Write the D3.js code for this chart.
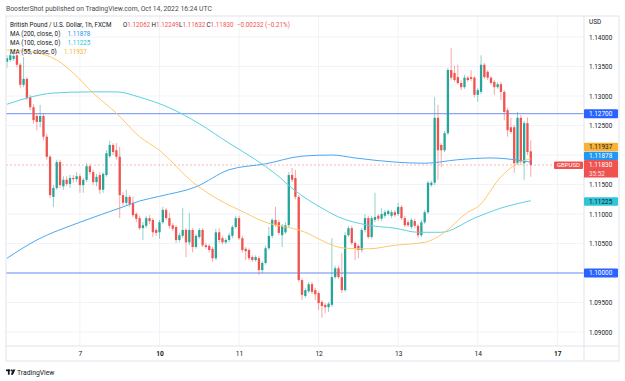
<!DOCTYPE html>
<html>
<head>
<meta charset="utf-8">
<script src="https://cdn.jsdelivr.net/npm/d3@7"></script>
<style>
  body { margin: 0; background: #fff; }
  svg { display: block; font-family: Roboto, "Liberation Sans", sans-serif; }
</style>
</head>
<body>
<div id="chart"></div>
<script>
// GBPUSD 1h candles, Oct 6 - Oct 14 2022
const opens = [
  1.1358,1.1361,1.1363,1.1369,1.1353,1.1319,1.1329,1.1298,1.1281,1.1266,
  1.1256,1.1266,1.1231,1.1197,1.1129,1.1144,1.1188,1.1147,1.1158,1.1151,
  1.1161,1.1159,1.1164,1.1149,1.1158,1.1181,1.1171,1.1154,1.1166,1.1141,
  1.1166,1.1198,1.1217,1.1208,1.1197,1.1132,1.1119,1.1129,1.1119,1.1100,
  1.1093,1.1076,1.1080,1.1093,1.1090,1.1073,1.1069,1.1086,1.1107,1.1093,
  1.1081,1.1078,1.1056,1.1063,1.1073,1.1052,1.1073,1.1044,1.1061,1.1073,
  1.1047,1.1046,1.1041,1.1025,1.1069,1.1059,1.1052,1.1056,1.1063,1.1078,
  1.1093,1.1059,1.1041,1.1039,1.1027,1.1022,1.1025,1.1005,1.1017,1.1042,
  1.1063,1.1090,1.1086,1.1064,1.1069,1.1081,1.1166,1.1161,1.1129,1.0988,
  1.0961,1.0969,1.0981,1.0971,1.0966,1.0951,1.0946,1.0942,1.0946,1.0993,
  1.1008,1.0993,1.0971,1.1064,1.1076,1.1051,1.1046,1.1039,1.1073,1.1093,
  1.1061,1.1090,1.1097,1.1092,1.1097,1.1100,1.1097,1.1103,1.1100,1.1112,
  1.1093,1.1086,1.1078,1.1088,1.1080,1.1064,1.1086,1.1103,1.1149,1.1153,
  1.1263,1.1217,1.1208,1.1237,1.1344,1.1339,1.1332,1.1322,1.1315,1.1331,
  1.1332,1.1331,1.1302,1.1307,1.1353,1.1341,1.1331,1.1324,1.1315,1.1320,
  1.1307,1.1276,1.1247,1.1247,1.1186,1.1263,1.1186,1.1254,1.12062
];
const highs = [
  1.1369,1.1375,1.1375,1.1373,1.1356,1.1366,1.1332,1.1302,1.1286,1.1271,
  1.1285,1.1271,1.1236,1.1200,1.1149,1.1192,1.1192,1.1164,1.1164,1.1166,
  1.1166,1.1171,1.1168,1.1161,1.1186,1.1185,1.1175,1.1168,1.1171,1.1171,
  1.1208,1.1224,1.1220,1.1220,1.1214,1.1137,1.1141,1.1132,1.1130,1.1103,
  1.1097,1.1086,1.1097,1.1098,1.1093,1.1076,1.1090,1.1112,1.1110,1.1102,
  1.1085,1.1081,1.1068,1.1110,1.1076,1.1102,1.1076,1.1066,1.1076,1.1076,
  1.1051,1.1049,1.1044,1.1075,1.1076,1.1063,1.1059,1.1068,1.1081,1.1097,
  1.1097,1.1063,1.1044,1.1042,1.1030,1.1030,1.1029,1.1020,1.1046,1.1078,
  1.1093,1.1112,1.1090,1.1083,1.1086,1.1171,1.1178,1.1175,1.1132,1.0991,
  1.0975,1.0985,1.0985,1.0975,1.0969,1.0954,1.0949,1.0951,1.1059,1.1012,
  1.1012,1.1034,1.1069,1.1080,1.1080,1.1054,1.1049,1.1076,1.1100,1.1097,
  1.1097,1.1136,1.1100,1.1110,1.1107,1.1108,1.1107,1.1107,1.1119,1.1115,
  1.1097,1.1090,1.1093,1.1092,1.1083,1.1090,1.1107,1.1156,1.1156,1.1298,
  1.1285,1.1220,1.1241,1.1348,1.1381,1.1351,1.1353,1.1327,1.1336,1.1334,
  1.1344,1.1334,1.1314,1.1369,1.1356,1.1344,1.1334,1.1327,1.1324,1.1324,
  1.1310,1.1280,1.1263,1.1251,1.1273,1.1268,1.1258,1.1264,1.12249
];
const lows = [
  1.1348,1.1358,1.1359,1.1349,1.1314,1.1315,1.1293,1.1276,1.1253,1.1242,
  1.1247,1.1225,1.1192,1.1127,1.1112,1.1141,1.1144,1.1141,1.1147,1.1144,
  1.1153,1.1154,1.1136,1.1136,1.1154,1.1166,1.1149,1.1147,1.1134,1.1136,
  1.1163,1.1195,1.1200,1.1192,1.1093,1.1114,1.1115,1.1112,1.1095,1.1086,
  1.1073,1.1056,1.1076,1.1083,1.1061,1.1063,1.1058,1.1083,1.1090,1.1076,
  1.1071,1.1051,1.1052,1.1059,1.1027,1.1047,1.1035,1.1041,1.1058,1.1044,
  1.1041,1.1035,1.1019,1.1022,1.1051,1.1049,1.1049,1.1052,1.1059,1.1075,
  1.1056,1.1035,1.1022,1.1022,1.1019,1.1019,1.0997,1.1000,1.1014,1.1039,
  1.1059,1.1078,1.1064,1.1044,1.1066,1.1078,1.1154,1.1125,1.0985,1.0954,
  1.0958,1.0966,1.0964,1.0954,1.0937,1.0924,1.0932,1.0934,1.0942,1.0990,
  1.0990,1.0966,1.0968,1.1061,1.1047,1.1022,1.1025,1.1035,1.1069,1.1058,
  1.1058,1.1086,1.1088,1.1088,1.1093,1.1097,1.1093,1.1095,1.1097,1.1090,
  1.1078,1.1078,1.1075,1.1076,1.1059,1.1061,1.1083,1.1100,1.1146,1.1149,
  1.1158,1.1180,1.1205,1.1234,1.1327,1.1324,1.1319,1.1310,1.1312,1.1324,
  1.1325,1.1298,1.1290,1.1303,1.1329,1.1327,1.1319,1.1302,1.1312,1.1293,
  1.1259,1.1231,1.1236,1.1170,1.1183,1.1183,1.1158,1.1200,1.11632
];
const closes = [
  1.1364,1.1369,1.1368,1.1353,1.1319,1.1329,1.1297,1.1281,1.1259,1.1256,
  1.1266,1.1231,1.1197,1.1132,1.1144,1.1188,1.1149,1.1158,1.1151,1.1161,
  1.1159,1.1164,1.1149,1.1158,1.1181,1.1171,1.1154,1.1163,1.1141,1.1168,
  1.1203,1.1217,1.1205,1.1197,1.1132,1.1119,1.1129,1.1117,1.1098,1.1092,
  1.1076,1.1081,1.1093,1.1088,1.1069,1.1068,1.1086,1.1107,1.1093,1.1080,
  1.1075,1.1056,1.1064,1.1073,1.1052,1.1073,1.1044,1.1063,1.1073,1.1047,
  1.1044,1.1039,1.1025,1.1069,1.1056,1.1052,1.1056,1.1064,1.1078,1.1093,
  1.1059,1.1039,1.1037,1.1025,1.1022,1.1027,1.1005,1.1017,1.1042,1.1063,
  1.1090,1.1081,1.1068,1.1080,1.1081,1.1166,1.1158,1.1129,1.0988,1.0963,
  1.0971,1.0981,1.0968,1.0964,1.0949,1.0944,1.0942,1.0948,1.0993,1.1008,
  1.0993,1.0971,1.1064,1.1076,1.1051,1.1042,1.1039,1.1073,1.1093,1.1061,
  1.1093,1.1095,1.1092,1.1100,1.1103,1.1105,1.1103,1.1098,1.1112,1.1093,
  1.1081,1.1081,1.1090,1.1080,1.1064,1.1086,1.1103,1.1153,1.1153,1.1263,
  1.1208,1.1208,1.1237,1.1344,1.1331,1.1327,1.1322,1.1315,1.1331,1.1327,
  1.1329,1.1302,1.1310,1.1353,1.1332,1.1331,1.1322,1.1315,1.1320,1.1307,
  1.1273,1.1242,1.1239,1.1186,1.1263,1.1188,1.1254,1.1205,1.11830
];

// moving averages, sampled along the bars (bar index -> value)
const ma200Idx = [0, 9, 22, 35, 40, 46, 57, 67, 78, 89, 98, 105, 117, 126, 136, 146, 158];
const ma200 = [1.1025, 1.1056, 1.1086, 1.1112, 1.1122, 1.1130, 1.1146, 1.1175, 1.1185, 1.1198, 1.1200, 1.1195, 1.1188, 1.1186, 1.1192, 1.1195, 1.11878];
const ma100Idx = [0, 7, 14, 25, 33, 40, 49, 58, 67, 75, 81, 87, 95, 100, 109, 117, 124, 131, 141, 149, 158];
const ma100 = [1.1286, 1.1298, 1.1305, 1.1307, 1.1307, 1.1298, 1.1280, 1.1253, 1.1220, 1.1192, 1.1168, 1.1139, 1.1110, 1.1095, 1.1081, 1.1076, 1.1069, 1.1069, 1.1093, 1.1110, 1.11225];
const ma55Idx = [0, 9, 15, 20, 26, 33, 40, 46, 56, 67, 70, 78, 88, 102, 109, 117, 126, 132, 139, 142, 149, 154, 158];
const ma55 = [1.1378, 1.1373, 1.1361, 1.1339, 1.1305, 1.1271, 1.1231, 1.1208, 1.1154, 1.1115, 1.1107, 1.1086, 1.1073, 1.1042, 1.1041, 1.1047, 1.1052, 1.1069, 1.1103, 1.1112, 1.1163, 1.1186, 1.11937];

const priceTicks = [1.09, 1.095, 1.10, 1.105, 1.11, 1.115, 1.12, 1.125, 1.13, 1.135, 1.14];
const timeTickIdx = [22, 46, 70, 94, 118, 142, 166];
const timeTickLabels = ['7', '10', '11', '12', '13', '14', '17'];
const hLines = [1.127, 1.10];

const width = 625, height = 381;
const frame = { left: 6, right: 619, top: 16, bottom: 361 };
const plotRight = 584, plotBottom = 346;
const up = '#26a69a', down = '#ef5350';

const svg = d3.select('#chart').append('svg')
  .attr('width', width)
  .attr('height', height);

const x = d3.scaleLinear().domain([0, 166]).range([7, 557.3]);
const y = d3.scaleLinear().domain([1.09, 1.14]).range([332, 37]);

svg.append('defs').append('clipPath').attr('id', 'plot')
  .append('rect')
  .attr('x', frame.left).attr('y', frame.top)
  .attr('width', plotRight - frame.left).attr('height', plotBottom - frame.top);

// grid
const grid = svg.append('g');
priceTicks.forEach(p => {
  grid.append('line')
    .attr('x1', frame.left).attr('x2', plotRight)
    .attr('y1', y(p)).attr('y2', y(p))
    .attr('stroke', '#f0f3fa');
});
timeTickIdx.forEach(i => {
  grid.append('line')
    .attr('x1', x(i)).attr('x2', x(i))
    .attr('y1', frame.top).attr('y2', plotBottom)
    .attr('stroke', '#f0f3fa');
});

const plot = svg.append('g').attr('clip-path', 'url(#plot)');

// horizontal levels
hLines.forEach(p => {
  plot.append('line')
    .attr('x1', frame.left).attr('x2', plotRight)
    .attr('y1', y(p)).attr('y2', y(p))
    .attr('stroke', '#6d8ff6').attr('stroke-width', 1);
});

// last price line
const last = closes[closes.length - 1];
plot.append('line')
  .attr('x1', frame.left).attr('x2', plotRight)
  .attr('y1', y(last)).attr('y2', y(last))
  .attr('stroke', down).attr('stroke-opacity', 0.4)
  .attr('stroke-dasharray', '2,2');

// candles
const bars = d3.range(opens.length).map(i => ({ i, o: opens[i], h: highs[i], l: lows[i], c: closes[i] }));
const candle = plot.append('g').selectAll('g').data(bars).join('g');
candle.append('line')
  .attr('x1', d => x(d.i)).attr('x2', d => x(d.i))
  .attr('y1', d => y(d.h)).attr('y2', d => y(d.l))
  .attr('stroke', d => d.c >= d.o ? up : down)
  .attr('stroke-opacity', 0.5)
  .attr('stroke-width', 1);
candle.append('rect')
  .attr('x', d => x(d.i) - 1.15)
  .attr('width', 2.3)
  .attr('y', d => y(Math.max(d.o, d.c)))
  .attr('height', d => Math.max(0.8, y(Math.min(d.o, d.c)) - y(Math.max(d.o, d.c))))
  .attr('fill', d => d.c >= d.o ? up : down);

// moving averages
function maLine(idx, vals, color) {
  const line = d3.line()
    .x(d => x(d[0]))
    .y(d => y(d[1]))
    .curve(d3.curveMonotoneX);
  plot.append('path')
    .datum(idx.map((k, j) => [k, vals[j]]))
    .attr('d', line)
    .attr('fill', 'none')
    .attr('stroke', color)
    .attr('stroke-width', 1);
}
maLine(ma200Idx, ma200, '#4aa8f2');
maLine(ma100Idx, ma100, '#5fd0e0');
maLine(ma55Idx, ma55, '#ffc96b');

// frame and separators
svg.append('rect')
  .attr('x', frame.left).attr('y', frame.top)
  .attr('width', frame.right - frame.left).attr('height', frame.bottom - frame.top)
  .attr('fill', 'none').attr('stroke', '#e0e3eb');
svg.append('line')
  .attr('x1', plotRight).attr('x2', plotRight)
  .attr('y1', frame.top).attr('y2', frame.bottom)
  .attr('stroke', '#e0e3eb');
svg.append('line')
  .attr('x1', frame.left).attr('x2', frame.right)
  .attr('y1', plotBottom).attr('y2', plotBottom)
  .attr('stroke', '#e0e3eb');

// price axis
const yAxis = svg.append('g')
  .attr('transform', `translate(${plotRight},0)`)
  .call(d3.axisRight(y).tickValues(priceTicks).tickFormat(d3.format('.5f')).tickSize(0).tickPadding(5));
yAxis.select('.domain').remove();
yAxis.selectAll('text').attr('font-size', '6.4px').attr('fill', '#131722').attr('font-family', 'Roboto');

svg.append('text')
  .attr('x', plotRight + 5).attr('y', 24)
  .attr('font-size', '6.4px').attr('fill', '#131722')
  .text('USD');

// time axis
const xAxis = svg.append('g')
  .attr('transform', `translate(0,${plotBottom})`)
  .call(d3.axisBottom(x).tickValues(timeTickIdx).tickFormat((d, k) => timeTickLabels[k]).tickSize(0).tickPadding(5));
xAxis.select('.domain').remove();
xAxis.selectAll('text')
  .attr('font-size', '6.6px').attr('fill', '#131722').attr('font-family', 'Roboto')
  .attr('font-weight', (d, k) => (timeTickLabels[k] === '10' || timeTickLabels[k] === '17') ? 700 : 400);

// axis price labels
function priceLabel(p, yc, fill, textColor, h) {
  const g = svg.append('g');
  g.append('rect')
    .attr('x', plotRight).attr('y', yc - h / 2)
    .attr('width', 34).attr('height', h)
    .attr('rx', 1)
    .attr('fill', fill);
  g.append('text')
    .attr('x', plotRight + 5).attr('y', yc)
    .attr('dy', '0.34em')
    .attr('font-size', '6.4px').attr('fill', textColor)
    .text(d3.format('.5f')(p));
  return g;
}
priceLabel(1.127, y(1.127), '#2962ff', '#fff', 9);
priceLabel(1.10, y(1.10), '#2962ff', '#fff', 9);
priceLabel(ma55[ma55.length - 1], 147, '#f9b233', '#131722', 8.6);
priceLabel(ma200[ma200.length - 1], 156, '#2196f3', '#fff', 8.6);
priceLabel(ma100[ma100.length - 1], 201.5, '#2ec5d8', '#131722', 8.6);
priceLabel(last, 164.7, down, '#fff', 9.4);
svg.append('rect')
  .attr('x', plotRight).attr('y', 169).attr('width', 34).attr('height', 8.5)
  .attr('fill', down);
svg.append('text')
  .attr('x', plotRight + 5).attr('y', 173.5).attr('dy', '0.34em')
  .attr('font-size', '6.4px').attr('fill', '#fbe3e3')
  .text('35:52');

svg.append('rect')
  .attr('x', 554).attr('y', 161.5).attr('width', 29).attr('height', 7.5)
  .attr('rx', 1).attr('fill', down);
svg.append('text')
  .attr('x', 568.5).attr('y', 165.3).attr('dy', '0.34em')
  .attr('text-anchor', 'middle')
  .attr('font-size', '6px').attr('fill', '#fff')
  .text('GBPUSD');

// header
svg.append('text')
  .attr('x', 6).attr('y', 10.5)
  .attr('font-size', '6.8px').attr('fill', '#4a4a4a')
  .text('BoosterShot published on TradingView.com, Oct 14, 2022 16:24 UTC');

// legend
const legend = svg.append('g').attr('font-size', '6.3px');
const l1 = legend.append('text').attr('x', 10).attr('y', 26.5).attr('fill', '#131722');
const parts = [
  ['British Pound / U.S. Dollar, 1h, FXCM', '#131722', 10],
  ['O', '#131722', 123], ['1.12062', down, null],
  ['H', '#131722', 151.5], ['1.12249', down, null],
  ['L', '#131722', 179], ['1.11632', down, null],
  ['C', '#131722', 206.5], ['1.11830', down, null],
  ['\u22120.00232 (\u22120.21%)', down, 237]
];
parts.forEach(([t, c, px]) => {
  const s = l1.append('tspan').attr('fill', c).text(t);
  if (px !== null) s.attr('x', px);
});
const maRows = [
  ['MA (200, close, 0)', ma200[ma200.length - 1], '#2196f3', 35.5],
  ['MA (100, close, 0)', ma100[ma100.length - 1], '#26c6da', 44.5],
  ['MA (55, close, 0)', ma55[ma55.length - 1], '#f9b233', 53.5]
];
maRows.forEach(([name, v, c, yy]) => {
  const t = legend.append('text').attr('x', 10).attr('y', yy).attr('fill', '#131722');
  t.append('tspan').text(name);
  t.append('tspan').attr('x', name.startsWith('MA (55') ? 64 : 67.5).attr('fill', c).text(d3.format('.5f')(v));
});

// TradingView mark
const logo = svg.append('g').attr('fill', '#131722');
logo.append('rect').attr('x', 6).attr('y', 369.5).attr('width', 4.2).attr('height', 1.7);
logo.append('rect').attr('x', 7.9).attr('y', 369.5).attr('width', 1.7).attr('height', 5.2);
logo.append('circle').attr('cx', 11.6).attr('cy', 370.4).attr('r', 0.9);
logo.append('path').attr('d', 'M12.7,369.5 L15.4,369.5 L13,374.7 L10.9,374.7 Z');
svg.append('text')
  .attr('x', 17).attr('y', 374.6)
  .attr('font-size', '6.8px').attr('fill', '#131722')
  .text('TradingView');
</script>
</body>
</html>
